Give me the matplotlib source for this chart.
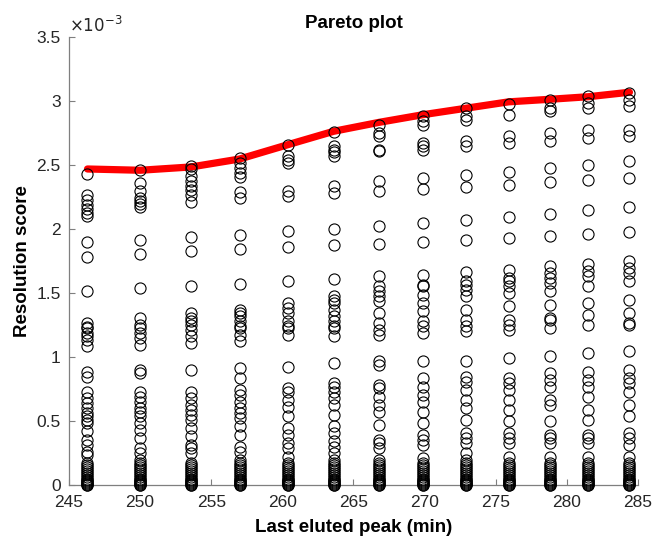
import numpy as np
import matplotlib
matplotlib.use("Agg")
import matplotlib.pyplot as plt
from matplotlib.ticker import FuncFormatter, MultipleLocator

plt.rcParams['font.family'] = ['Liberation Sans', 'DejaVu Sans']

# last eluted peak (min) for each gradient setting
peak_times = [246.3, 250.0, 253.6, 257.0, 260.4, 263.6, 266.8,
              269.9, 272.9, 275.9, 278.8, 281.5, 284.4]

# resolution scores per setting (units of 1e-3)
res_246 = [2.427, 2.266, 2.221, 2.188, 2.154, 2.122, 2.10, 1.893, 1.781, 1.513,
           1.263, 1.232, 1.224, 1.185, 1.159, 1.133, 1.081, 0.885, 0.846, 0.729,
           0.677, 0.638, 0.599, 0.56, 0.534, 0.508, 0.482, 0.417, 0.352, 0.313,
           0.26, 0.234]
res_250 = [2.456, 2.357, 2.297, 2.24, 2.219, 2.195, 2.169, 1.914, 1.802, 1.534,
           1.302, 1.25, 1.224, 1.185, 1.146, 1.094, 0.898, 0.872, 0.729, 0.69,
           0.651, 0.599, 0.573, 0.534, 0.482, 0.43, 0.365, 0.286, 0.247, 0.195]
res_254 = [2.492, 2.466, 2.409, 2.37, 2.331, 2.305, 2.26, 2.206, 1.935, 1.823,
           1.549, 1.341, 1.302, 1.276, 1.25, 1.211, 1.159, 1.107, 0.898, 0.729,
           0.677, 0.625, 0.586, 0.547, 0.508, 0.443, 0.378, 0.313, 0.286, 0.247]
res_257 = [2.552, 2.513, 2.474, 2.435, 2.401, 2.286, 2.24, 1.953, 1.841, 1.57,
           1.367, 1.341, 1.315, 1.276, 1.237, 1.224, 1.172, 1.12, 0.911, 0.833,
           0.742, 0.703, 0.651, 0.599, 0.56, 0.521, 0.456, 0.391, 0.299, 0.26,
           0.195]
res_260 = [2.656, 2.565, 2.539, 2.513, 2.297, 2.258, 1.979, 1.854, 1.589, 1.419,
           1.38, 1.341, 1.276, 1.237, 1.224, 1.172, 0.924, 0.755, 0.729, 0.664,
           0.612, 0.534, 0.443, 0.391, 0.326, 0.286, 0.221]
res_264 = [2.753, 2.643, 2.617, 2.596, 2.57, 2.331, 2.279, 2.0, 1.87, 1.607,
           1.471, 1.445, 1.419, 1.367, 1.315, 1.276, 1.237, 1.224, 1.159, 0.951,
           0.794, 0.768, 0.729, 0.677, 0.625, 0.547, 0.456, 0.404, 0.339, 0.299,
           0.247, 0.195]
res_267 = [2.812, 2.747, 2.721, 2.617, 2.604, 2.37, 2.292, 2.023, 1.88, 1.628,
           1.549, 1.51, 1.471, 1.432, 1.341, 1.263, 1.211, 1.172, 0.964, 0.938,
           0.781, 0.755, 0.69, 0.625, 0.573, 0.469, 0.352, 0.326, 0.286, 0.195]
res_270 = [2.878, 2.839, 2.812, 2.669, 2.643, 2.617, 2.396, 2.31, 2.044, 1.896,
           1.641, 1.562, 1.549, 1.484, 1.419, 1.354, 1.276, 1.237, 1.185, 0.964,
           0.833, 0.768, 0.703, 0.651, 0.573, 0.482, 0.391, 0.352, 0.313, 0.208]
res_273 = [2.943, 2.878, 2.852, 2.682, 2.648, 2.422, 2.326, 2.07, 1.914, 1.659,
           1.589, 1.562, 1.523, 1.471, 1.367, 1.289, 1.237, 1.198, 0.964, 0.846,
           0.807, 0.742, 0.664, 0.599, 0.508, 0.404, 0.365, 0.326, 0.247, 0.195]
res_276 = [2.977, 2.891, 2.721, 2.669, 2.44, 2.344, 2.094, 1.927, 1.68, 1.615,
           1.589, 1.549, 1.497, 1.393, 1.289, 1.25, 1.211, 0.99, 0.833, 0.794,
           0.742, 0.664, 0.586, 0.495, 0.404, 0.365, 0.326, 0.221]
res_279 = [3.008, 2.943, 2.917, 2.747, 2.682, 2.474, 2.362, 2.117, 1.94, 1.706,
           1.654, 1.615, 1.576, 1.51, 1.406, 1.302, 1.289, 1.224, 1.003, 0.872,
           0.82, 0.768, 0.664, 0.625, 0.495, 0.391, 0.365, 0.326, 0.221]
res_282 = [3.034, 2.982, 2.943, 2.773, 2.708, 2.5, 2.378, 2.143, 1.958, 1.724,
           1.667, 1.628, 1.549, 1.419, 1.328, 1.25, 1.029, 0.885, 0.82, 0.768,
           0.69, 0.586, 0.508, 0.391, 0.365, 0.326, 0.221]
res_284 = [3.06, 3.008, 2.956, 2.773, 2.721, 2.526, 2.396, 2.169, 1.977, 1.745,
           1.693, 1.654, 1.589, 1.445, 1.341, 1.263, 1.25, 1.042, 0.898, 0.833,
           0.794, 0.729, 0.625, 0.534, 0.404, 0.365, 0.313, 0.221]

# poorly resolved runs, common to every setting
res_low = [0.17, 0.155, 0.14, 0.125, 0.11, 0.095, 0.08, 0.065, 0.05, 0.04,
           0.03, 0.02, 0.012, 0.006, 0.002, 0.0]

# fitted Pareto front (units of 1e-3)
front = [2.466, 2.456, 2.482, 2.544, 2.656, 2.76, 2.83, 2.89, 2.94, 2.99,
         3.01, 3.03, 3.065]

columns = [res_246, res_250, res_254, res_257, res_260, res_264, res_267,
           res_270, res_273, res_276, res_279, res_282, res_284]

fig = plt.figure(figsize=(6.54, 5.37), dpi=100)
ax = fig.add_axes([0.1055, 0.097, 0.870, 0.835])

ax.plot(peak_times, np.array(front) * 1e-3, color='#ff0000', lw=5.2,
        solid_capstyle='round', solid_joinstyle='round', zorder=2)

for t, col in zip(peak_times, columns):
    y = np.array(col + res_low) * 1e-3
    ax.plot(np.full(len(y), t), y, 'o', ms=8, mfc='none', mec='black',
            mew=0.8, clip_on=False, zorder=3)

ax.set_xlim(245, 285)
ax.set_ylim(0, 3.5e-3)
ax.xaxis.set_major_locator(MultipleLocator(5))
ax.yaxis.set_major_locator(MultipleLocator(0.5e-3))
ax.yaxis.set_major_formatter(FuncFormatter(lambda v, _: f"{v * 1e3:g}"))

for side in ['top', 'right']:
    ax.spines[side].set_visible(False)
for side in ['left', 'bottom']:
    ax.spines[side].set_color('#7f7f7f')
    ax.spines[side].set_linewidth(0.9)
ax.tick_params(direction='in', length=4, width=0.8, color='#7f7f7f',
               labelsize=12.5, labelcolor='#262626')
ax.tick_params(axis='x', pad=7)
ax.tick_params(axis='y', pad=6)

ax.text(0.0, 1.004, r'$\times10^{-3}$', transform=ax.transAxes,
        fontsize=12, color='#262626', ha='left', va='bottom')
ax.set_title('Pareto plot', fontsize=13.5, fontweight='bold', pad=6)
ax.set_xlabel('Last eluted peak (min)', fontsize=13.5, fontweight='bold',
              labelpad=6.5)
ax.set_ylabel('Resolution score', fontsize=13.5, fontweight='bold',
              labelpad=4)

fig.savefig('out.png', dpi=100)
